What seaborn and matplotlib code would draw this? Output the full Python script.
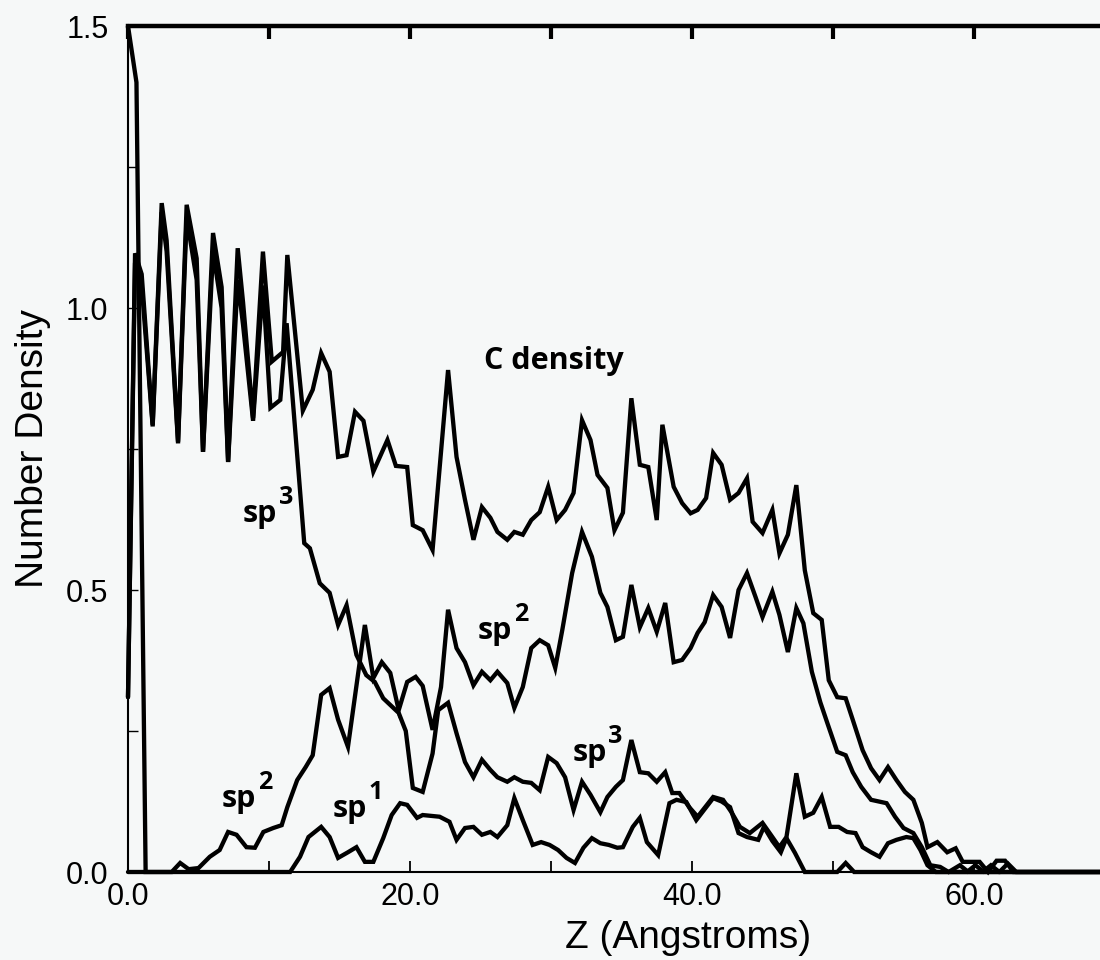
import numpy as np
import pandas as pd
import matplotlib
matplotlib.use("Agg")
import matplotlib.pyplot as plt
import seaborn as sns

# ---------------- data ----------------
total_z = [0.0, 0.5, 0.97, 1.75, 2.39, 2.74, 3.55, 4.16, 4.87, 5.32, 6.03, 6.64, 7.10, 7.78,
           8.16, 8.87, 9.57, 10.2, 11.0, 11.3, 12.4, 13.1, 13.7, 14.3, 14.9, 15.5, 16.1, 16.7,
           17.4, 18.4, 19.0, 19.8, 20.2, 20.9, 21.6, 22.7, 23.3, 23.9, 24.5, 25.1, 25.7, 26.2,
           26.9, 27.4, 28.0, 28.6, 29.2, 29.8, 30.4, 31.0, 31.6, 32.2, 32.8, 33.3, 34.0, 34.5,
           35.1, 35.7, 36.3, 36.9, 37.5, 37.9, 38.7, 39.3, 39.9, 40.4, 41.0, 41.5, 42.1, 42.7,
           43.3, 43.9, 44.3, 45.0, 45.7, 46.2, 46.8, 47.4, 48.0, 48.6, 49.2, 49.7, 50.3, 50.9,
           51.4, 52.1, 52.7, 53.3, 53.9, 54.5, 55.1, 55.7, 56.3, 56.7, 57.4, 58.1, 58.7, 59.2,
           60.4, 61.0, 61.6, 62.2, 62.8, 70.0]
total_d = [0.31, 1.097, 1.06, 0.793, 1.186, 1.12, 0.763, 1.183, 1.088, 0.745, 1.133, 1.037, 0.727, 1.106,
           1.01, 0.805, 1.10, 0.905, 0.922, 1.094, 0.818, 0.855, 0.92, 0.887, 0.736, 0.739, 0.816, 0.80,
           0.71, 0.766, 0.72, 0.718, 0.615, 0.606, 0.571, 0.89, 0.736, 0.66, 0.589, 0.647, 0.628, 0.603,
           0.589, 0.603, 0.598, 0.624, 0.638, 0.683, 0.624, 0.642, 0.672, 0.801, 0.766, 0.704, 0.681, 0.606,
           0.637, 0.84, 0.722, 0.718, 0.624, 0.793, 0.683, 0.654, 0.636, 0.642, 0.663, 0.743, 0.722, 0.66,
           0.672, 0.698, 0.621, 0.601, 0.642, 0.565, 0.598, 0.686, 0.535, 0.459, 0.447, 0.34, 0.31, 0.308,
           0.27, 0.216, 0.184, 0.163, 0.186, 0.163, 0.142, 0.128, 0.087, 0.044, 0.053, 0.035, 0.042, 0.018,
           0.018, 0.0, 0.02, 0.02, 0.0, 0.0]

sp3_z = [0.0, 0.5, 0.97, 1.75, 2.39, 2.74, 3.55, 4.16, 4.87, 5.32, 6.03, 6.64, 7.10, 7.78, 8.16,
         8.87, 9.57, 10.1, 10.8, 11.25, 12.5, 12.9, 13.6, 14.3, 14.9, 15.5, 16.2, 16.9, 17.5, 18.1,
         19.2, 19.7, 20.2, 20.9, 21.6, 22.0, 22.7, 23.3, 23.9, 24.5, 25.1, 25.7, 26.2, 26.9, 27.4,
         28.0, 28.6, 29.2, 29.8, 30.4, 31.0, 31.6, 32.2, 32.8, 33.5, 34.0, 34.6, 35.1, 35.7, 36.3,
         36.9, 37.5, 38.1, 38.6, 39.1, 39.8, 40.4, 41.5, 42.2, 42.8, 43.4, 44.1, 45.0, 45.7, 46.2,
         46.7, 47.4, 48.0, 48.6, 49.2, 49.8, 50.4, 51.0, 51.6, 52.1, 52.7, 53.3, 53.9, 54.5, 55.2,
         55.7, 56.2, 56.7, 57.3, 59.5, 60.1, 60.7, 61.8, 62.4, 63.0, 70.0]
sp3_d = [0.31, 1.08, 1.04, 0.79, 1.17, 1.10, 0.76, 1.16, 1.05, 0.745, 1.10, 1.0, 0.727, 1.05, 0.97,
         0.80, 1.04, 0.823, 0.837, 0.973, 0.583, 0.574, 0.512, 0.495, 0.438, 0.473, 0.385, 0.349, 0.337, 0.308,
         0.282, 0.25, 0.149, 0.142, 0.21, 0.287, 0.30, 0.246, 0.195, 0.168, 0.199, 0.181, 0.168, 0.16, 0.168,
         0.16, 0.158, 0.145, 0.204, 0.193, 0.168, 0.11, 0.16, 0.137, 0.106, 0.133, 0.151, 0.163, 0.234, 0.177,
         0.175, 0.16, 0.177, 0.14, 0.14, 0.115, 0.098, 0.133, 0.128, 0.106, 0.08, 0.069, 0.087, 0.062, 0.044,
         0.062, 0.175, 0.098, 0.105, 0.133, 0.08, 0.08, 0.071, 0.069, 0.044, 0.035, 0.027, 0.051, 0.057, 0.062,
         0.06, 0.039, 0.012, 0.0, 0.0, 0.012, 0.0, 0.0, 0.015, 0.0, 0.0]

sp2_z = [0.0, 0.6, 1.25, 1.9, 3.1, 3.7, 4.3, 5.0, 5.8, 6.5, 7.1, 7.7, 8.4, 9.0, 9.6, 10.3, 10.9,
         11.3, 12.0, 12.6, 13.1, 13.7, 14.3, 14.9, 15.6, 16.8, 17.4, 18.0, 18.6, 19.2, 19.8, 20.4,
         20.9, 21.6, 22.2, 22.7, 23.3, 23.9, 24.5, 25.1, 25.7, 26.2, 26.9, 27.4, 28.0, 28.6, 29.2,
         29.8, 30.3, 30.8, 31.5, 32.2, 32.9, 33.5, 34.0, 34.6, 35.1, 35.7, 36.3, 36.9, 37.5, 38.1,
         38.7, 39.3, 39.9, 40.4, 40.9, 41.5, 42.1, 42.7, 43.3, 43.9, 44.5, 45.0, 45.7, 46.2, 46.8,
         47.4, 47.9, 48.5, 49.1, 49.6, 50.3, 50.9, 51.4, 52.0, 52.7, 53.8, 54.4, 55.0, 55.7, 56.3,
         56.9, 57.6, 58.2, 59.0, 59.6, 60.6, 61.2, 61.8, 70.0]
sp2_d = [1.5, 1.40, 0.0, 0.0, 0.0, 0.016, 0.005, 0.007, 0.027, 0.039, 0.071, 0.066, 0.044, 0.043, 0.071, 0.078, 0.083,
         0.115, 0.163, 0.186, 0.207, 0.314, 0.326, 0.27, 0.222, 0.438, 0.344, 0.372, 0.353, 0.287, 0.337, 0.346,
         0.33, 0.252, 0.328, 0.465, 0.397, 0.372, 0.331, 0.355, 0.34, 0.355, 0.335, 0.291, 0.328, 0.397, 0.411,
         0.402, 0.362, 0.429, 0.53, 0.603, 0.559, 0.495, 0.47, 0.411, 0.417, 0.509, 0.434, 0.468, 0.426, 0.477,
         0.372, 0.376, 0.397, 0.424, 0.443, 0.491, 0.47, 0.415, 0.5, 0.53, 0.488, 0.452, 0.497, 0.456, 0.39,
         0.468, 0.441, 0.355, 0.301, 0.264, 0.213, 0.207, 0.177, 0.151, 0.128, 0.122, 0.098, 0.078, 0.069, 0.044,
         0.012, 0.009, 0.0, 0.012, 0.0, 0.0, 0.012, 0.0, 0.0]

sp1_z = [0.0, 11.5, 12.2, 12.8, 13.7, 14.3, 14.9, 15.6, 16.2, 16.8, 17.4, 18.1, 18.7, 19.3, 19.8,
         20.5, 20.9, 22.1, 22.8, 23.3, 23.9, 24.5, 25.1, 25.7, 26.2, 26.9, 27.4, 28.0, 28.7, 29.3,
         29.9, 30.5, 31.1, 31.7, 32.3, 32.9, 33.5, 34.1, 34.7, 35.1, 35.8, 36.3, 36.8, 37.6, 38.4,
         38.9, 39.6, 40.3, 41.5, 42.1, 42.7, 43.3, 43.9, 44.7, 45.1, 45.7, 46.3, 46.7, 47.3, 48.0,
         50.3, 50.9, 51.5, 70.0]
sp1_d = [0.0, 0.0, 0.027, 0.062, 0.08, 0.062, 0.025, 0.035, 0.044, 0.018, 0.018, 0.06, 0.101, 0.122, 0.119,
         0.096, 0.101, 0.098, 0.089, 0.057, 0.078, 0.08, 0.066, 0.071, 0.062, 0.083, 0.131, 0.092, 0.048, 0.053,
         0.048, 0.039, 0.025, 0.016, 0.043, 0.06, 0.051, 0.048, 0.043, 0.044, 0.08, 0.096, 0.053, 0.03, 0.122,
         0.128, 0.124, 0.092, 0.131, 0.125, 0.115, 0.069, 0.062, 0.057, 0.08, 0.055, 0.035, 0.06, 0.034, 0.0,
         0.0, 0.016, 0.0, 0.0]

x_ticks = [0, 20, 40, 60]
x_tick_labels = ["0.0", "20.0", "40.0", "60.0"]
x_minor = [10, 30, 50]
y_ticks = [0.0, 0.5, 1.0, 1.5]
y_tick_labels = ["0.0", "0.5", "1.0", "1.5"]
y_minor = [0.25, 0.75, 1.25]

# annotation labels: (base text, superscript, x, y)
sp_labels = [("sp", "3", 8.16, 0.62),
             ("sp", "2", 6.65, 0.115),
             ("sp", "1", 14.5, 0.098),
             ("sp", "2", 24.8, 0.413),
             ("sp", "3", 31.5, 0.197)]

# ---------------- figure ----------------
BG = "#f6f8f8"
sns.set_theme(style="white")
plt.rcParams["font.family"] = ["Liberation Sans", "DejaVu Sans"]

frames = []
for name, z, d in [("C density", total_z, total_d), ("sp3", sp3_z, sp3_d),
                   ("sp2", sp2_z, sp2_d), ("sp1", sp1_z, sp1_d)]:
    frames.append(pd.DataFrame({"z": z, "density": d, "series": name}))
df = pd.concat(frames, ignore_index=True)

fig = plt.figure(figsize=(11, 9.6), dpi=100, facecolor=BG)
ax = fig.add_axes([128 / 1100, 88 / 960, 972 / 1100, 846 / 960])
ax.set_facecolor(BG)

sns.lineplot(data=df, x="z", y="density", units="series", estimator=None, sort=False,
             color="black", lw=3.1, ax=ax, legend=False)
for ln in ax.lines:
    ln.set_clip_on(False)
    ln.set_solid_joinstyle("miter")

ax.set_xlim(0, 972 / 14.1)
ax.set_ylim(0, 1.5)

ax.set_xticks(x_ticks)
ax.set_xticklabels(x_tick_labels)
ax.set_xticks(x_minor, minor=True)
ax.set_yticks(y_ticks)
ax.set_yticklabels(y_tick_labels)
ax.set_yticks(y_minor, minor=True)

ax.tick_params(axis="x", which="both", direction="in", bottom=True, top=True,
               length=8, width=1.3, colors="black", labelsize=22, pad=7)
ax.tick_params(axis="y", which="both", direction="in", left=True, right=False,
               length=7, width=1.0, colors="black", labelsize=22, pad=14)
for t in ax.xaxis.get_major_ticks() + ax.xaxis.get_minor_ticks():
    t.tick2line.set_markeredgewidth(3.0)
    t.tick2line.set_markersize(9)

for side in ["left", "bottom"]:
    ax.spines[side].set_linewidth(1.5)
    ax.spines[side].set_color("black")
ax.spines["top"].set_linewidth(3.2)
ax.spines["top"].set_color("black")
ax.spines["right"].set_visible(False)

ax.set_xlabel("Z (Angstroms)", fontsize=28, color="black")
ax.xaxis.set_label_coords((688 - 128) / 972, -(938 - 872) / 846)
ax.xaxis.label.set_va("center")
ax.set_ylabel("Number Density", fontsize=28, color="black")
ax.yaxis.set_label_coords((33 - 128) / 972, 0.5)
ax.yaxis.label.set_va("center")

ann_font = dict(family=["Open Sans", "DejaVu Sans"], fontweight="bold", color="black")
ax.text(30.2, 0.892, "C density", fontsize=22, ha="center", va="baseline", **ann_font)
for base, sup, x, y in sp_labels:
    ax.text(x, y, base, fontsize=22, ha="left", va="baseline", **ann_font)
    ax.annotate(sup, xy=(x, y), xytext=(26, 13), textcoords="offset points",
                fontsize=18, ha="left", va="baseline", **ann_font)

fig.savefig("out.png", dpi=100, facecolor=BG)
